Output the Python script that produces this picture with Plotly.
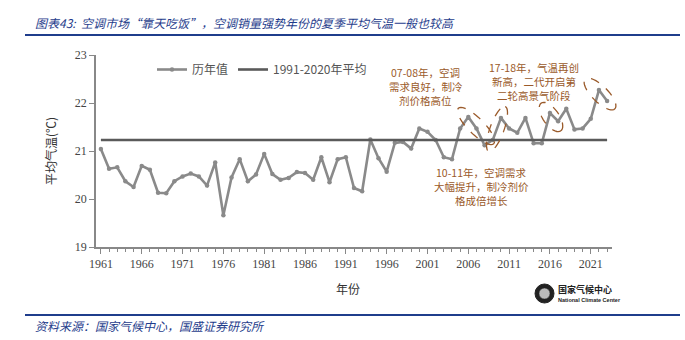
import math
import plotly.graph_objects as go

# ---------------- data ----------------
years = list(range(1961, 2024))
temps = [21.04, 20.63, 20.66, 20.37, 20.25, 20.69, 20.61, 20.13, 20.12, 20.37,
         20.47, 20.53, 20.47, 20.28, 20.76, 19.66, 20.45, 20.83, 20.37, 20.51,
         20.94, 20.52, 20.40, 20.44, 20.56, 20.54, 20.40, 20.87, 20.35, 20.83,
         20.87, 20.23, 20.16, 21.24, 20.85, 20.57, 21.17, 21.19, 21.05, 21.47,
         21.40, 21.23, 20.87, 20.83, 21.47, 21.71, 21.47, 21.12, 21.23, 21.69,
         21.47, 21.38, 21.69, 21.16, 21.16, 21.79, 21.62, 21.88, 21.45, 21.47,
         21.67, 22.27, 22.04]
avg_years = [1961, 2023]
avg_values = [21.23, 21.23]
x_ticks = [1961, 1966, 1971, 1976, 1981, 1986, 1991, 1996, 2001, 2006, 2011, 2016, 2021]
y_ticks = [19, 20, 21, 22, 23]

series_name = "历年值"
avg_name = "1991-2020年平均"
title_text = "图表43:  空调市场“靠天吃饭”，空调销量强势年份的夏季平均气温一般也较高"
source_text = "资料来源：国家气候中心，国盛证券研究所"
notes = [
    (["07-08年，空调", "需求良好，制冷", "剂价格高位"], 2000.8, 22.64),
    (["10-11年，空调需求", "大幅提升，制冷剂价", "格成倍增长"], 2007.6, 20.56),
    (["17-18年，气温再创", "新高，二代开启第", "二轮高景气阶段"], 2014.1, 22.74),
    (["23-24年，气温再次", "突破峰值，23年空调", "销量数据亮眼，", "24H1排产同比高增"], 2024.3, 20.99),
]

# ---------------- layout geometry ----------------
W, H = 685, 340
L, R, T, B = 96, 73, 55, 93
PW, PH = W - L - R, H - T - B
Y0, Y1 = 19, 23
LINE_STEP = 14.2 / PH * (Y1 - Y0)


def px(xp):
    return (xp - L) / PW


def py(yp):
    return (H - B - yp) / PH


BLUE = "#1F3D8C"
BROWN = "#9A5A2A"

fig = go.Figure()
fig.add_trace(go.Scatter(
    x=years, y=temps, name=series_name, mode="lines+markers",
    line=dict(color="#8A8A8A", width=2.6),
    marker=dict(size=4.5, color="#8A8A8A"),
))
fig.add_trace(go.Scatter(
    x=avg_years, y=avg_values, name=avg_name, mode="lines",
    line=dict(color="#5A5A5A", width=2.6),
))

annotations = []
for lines, xv, ytop in notes:
    for i, txt in enumerate(lines):
        annotations.append(dict(text=txt, x=xv, y=ytop - i * LINE_STEP, xref="x", yref="y",
                                showarrow=False, xanchor="center", yanchor="middle",
                                font=dict(family="Noto Sans CJK SC", size=10.5, color=BROWN)))

annotations += [
    dict(text=title_text, x=px(33), y=py(22), xref="paper", yref="paper",
         showarrow=False, xanchor="left", yanchor="middle",
         font=dict(family="Noto Sans CJK SC", size=12, color=BLUE, style="italic")),
    dict(text=source_text, x=px(33), y=py(325), xref="paper", yref="paper",
         showarrow=False, xanchor="left", yanchor="middle",
         font=dict(family="Noto Sans CJK SC", size=12, color=BLUE, style="italic")),
    dict(text="年份", x=px(348), y=py(288), xref="paper", yref="paper",
         showarrow=False, xanchor="center", yanchor="middle",
         font=dict(family="Noto Sans CJK SC", size=12, color="#333")),
    dict(text="平均气温(℃)", x=px(50), y=py(151), xref="paper", yref="paper",
         showarrow=False, xanchor="center", yanchor="middle", textangle=-90,
         font=dict(family="Noto Sans CJK SC", size=12, color="#333")),
    dict(text="<b>国家气候中心</b>", x=px(556), y=py(289), xref="paper", yref="paper",
         showarrow=False, xanchor="left", yanchor="middle",
         font=dict(family="Noto Sans CJK SC", size=9, color="#222")),
    dict(text="<b>National Climate Center</b>", x=px(556), y=py(300), xref="paper", yref="paper",
         showarrow=False, xanchor="left", yanchor="middle",
         font=dict(family="Liberation Sans", size=5.5, color="#222")),
]

shapes = [
    dict(type="line", xref="paper", yref="paper", x0=px(25), x1=px(680), y0=py(35), y1=py(35),
         line=dict(color=BLUE, width=1.8)),
    dict(type="line", xref="paper", yref="paper", x0=px(25), x1=px(680), y0=py(315), y1=py(315),
         line=dict(color=BLUE, width=1.8)),
    dict(type="circle", xref="paper", yref="paper", x0=px(535), x1=px(554), y0=py(303), y1=py(284),
         fillcolor="#222", line=dict(color="#222", width=1)),
    dict(type="circle", xref="paper", yref="paper", x0=px(539), x1=px(550), y0=py(299), y1=py(288),
         fillcolor="#bbb", line=dict(color="#222", width=0.5)),
]


def ellipse(cx, cy, a, b, ang):
    pts = []
    th = math.radians(ang)
    for i in range(41):
        t = 2 * math.pi * i / 40
        ex = a * math.cos(t)
        ey = b * math.sin(t)
        xp = cx + ex * math.cos(th) - ey * math.sin(th)
        yp = cy + ex * math.sin(th) + ey * math.cos(th)
        pts.append((px(xp), py(yp)))
    d = "M " + " L ".join(f"{x:.4f},{y:.4f}" for x, y in pts) + " Z"
    return dict(type="path", xref="paper", yref="paper", path=d,
                line=dict(color=BROWN, width=1.3, dash="dash"))


shapes += [
    ellipse(476, 126, 25, 8, 45),
    ellipse(497, 129, 24, 7, -70),
    ellipse(551, 117, 17, 8, 55),
    ellipse(600, 94, 21, 8, 45),
]

fig.update_layout(
    width=W, height=H,
    margin=dict(l=L, r=R, t=T, b=B),
    paper_bgcolor="white", plot_bgcolor="white",
    showlegend=True,
    legend=dict(orientation="h", x=px(152), y=1.0, xanchor="left", yanchor="top",
                font=dict(family="Noto Sans CJK SC", size=12, color="#555"),
                bgcolor="rgba(0,0,0,0)", itemwidth=30),
    annotations=annotations,
    shapes=shapes,
    xaxis=dict(range=[1960.4, 2023.6], tickvals=x_ticks, showgrid=False, zeroline=False,
               showline=True, linecolor="#888", linewidth=1.5,
               ticks="outside", ticklen=5, tickcolor="#888",
               minor=dict(dtick=1, tick0=1961, ticks="outside", ticklen=3, tickcolor="#888"),
               tickfont=dict(family="Liberation Serif", size=12, color="#444")),
    yaxis=dict(range=[Y0, Y1], tickvals=y_ticks, showgrid=False, zeroline=False,
               showline=True, linecolor="#888", linewidth=1.5,
               ticks="outside", ticklen=5, tickcolor="#888",
               tickfont=dict(family="Liberation Serif", size=12, color="#444")),
)

fig.write_html("out.html")
